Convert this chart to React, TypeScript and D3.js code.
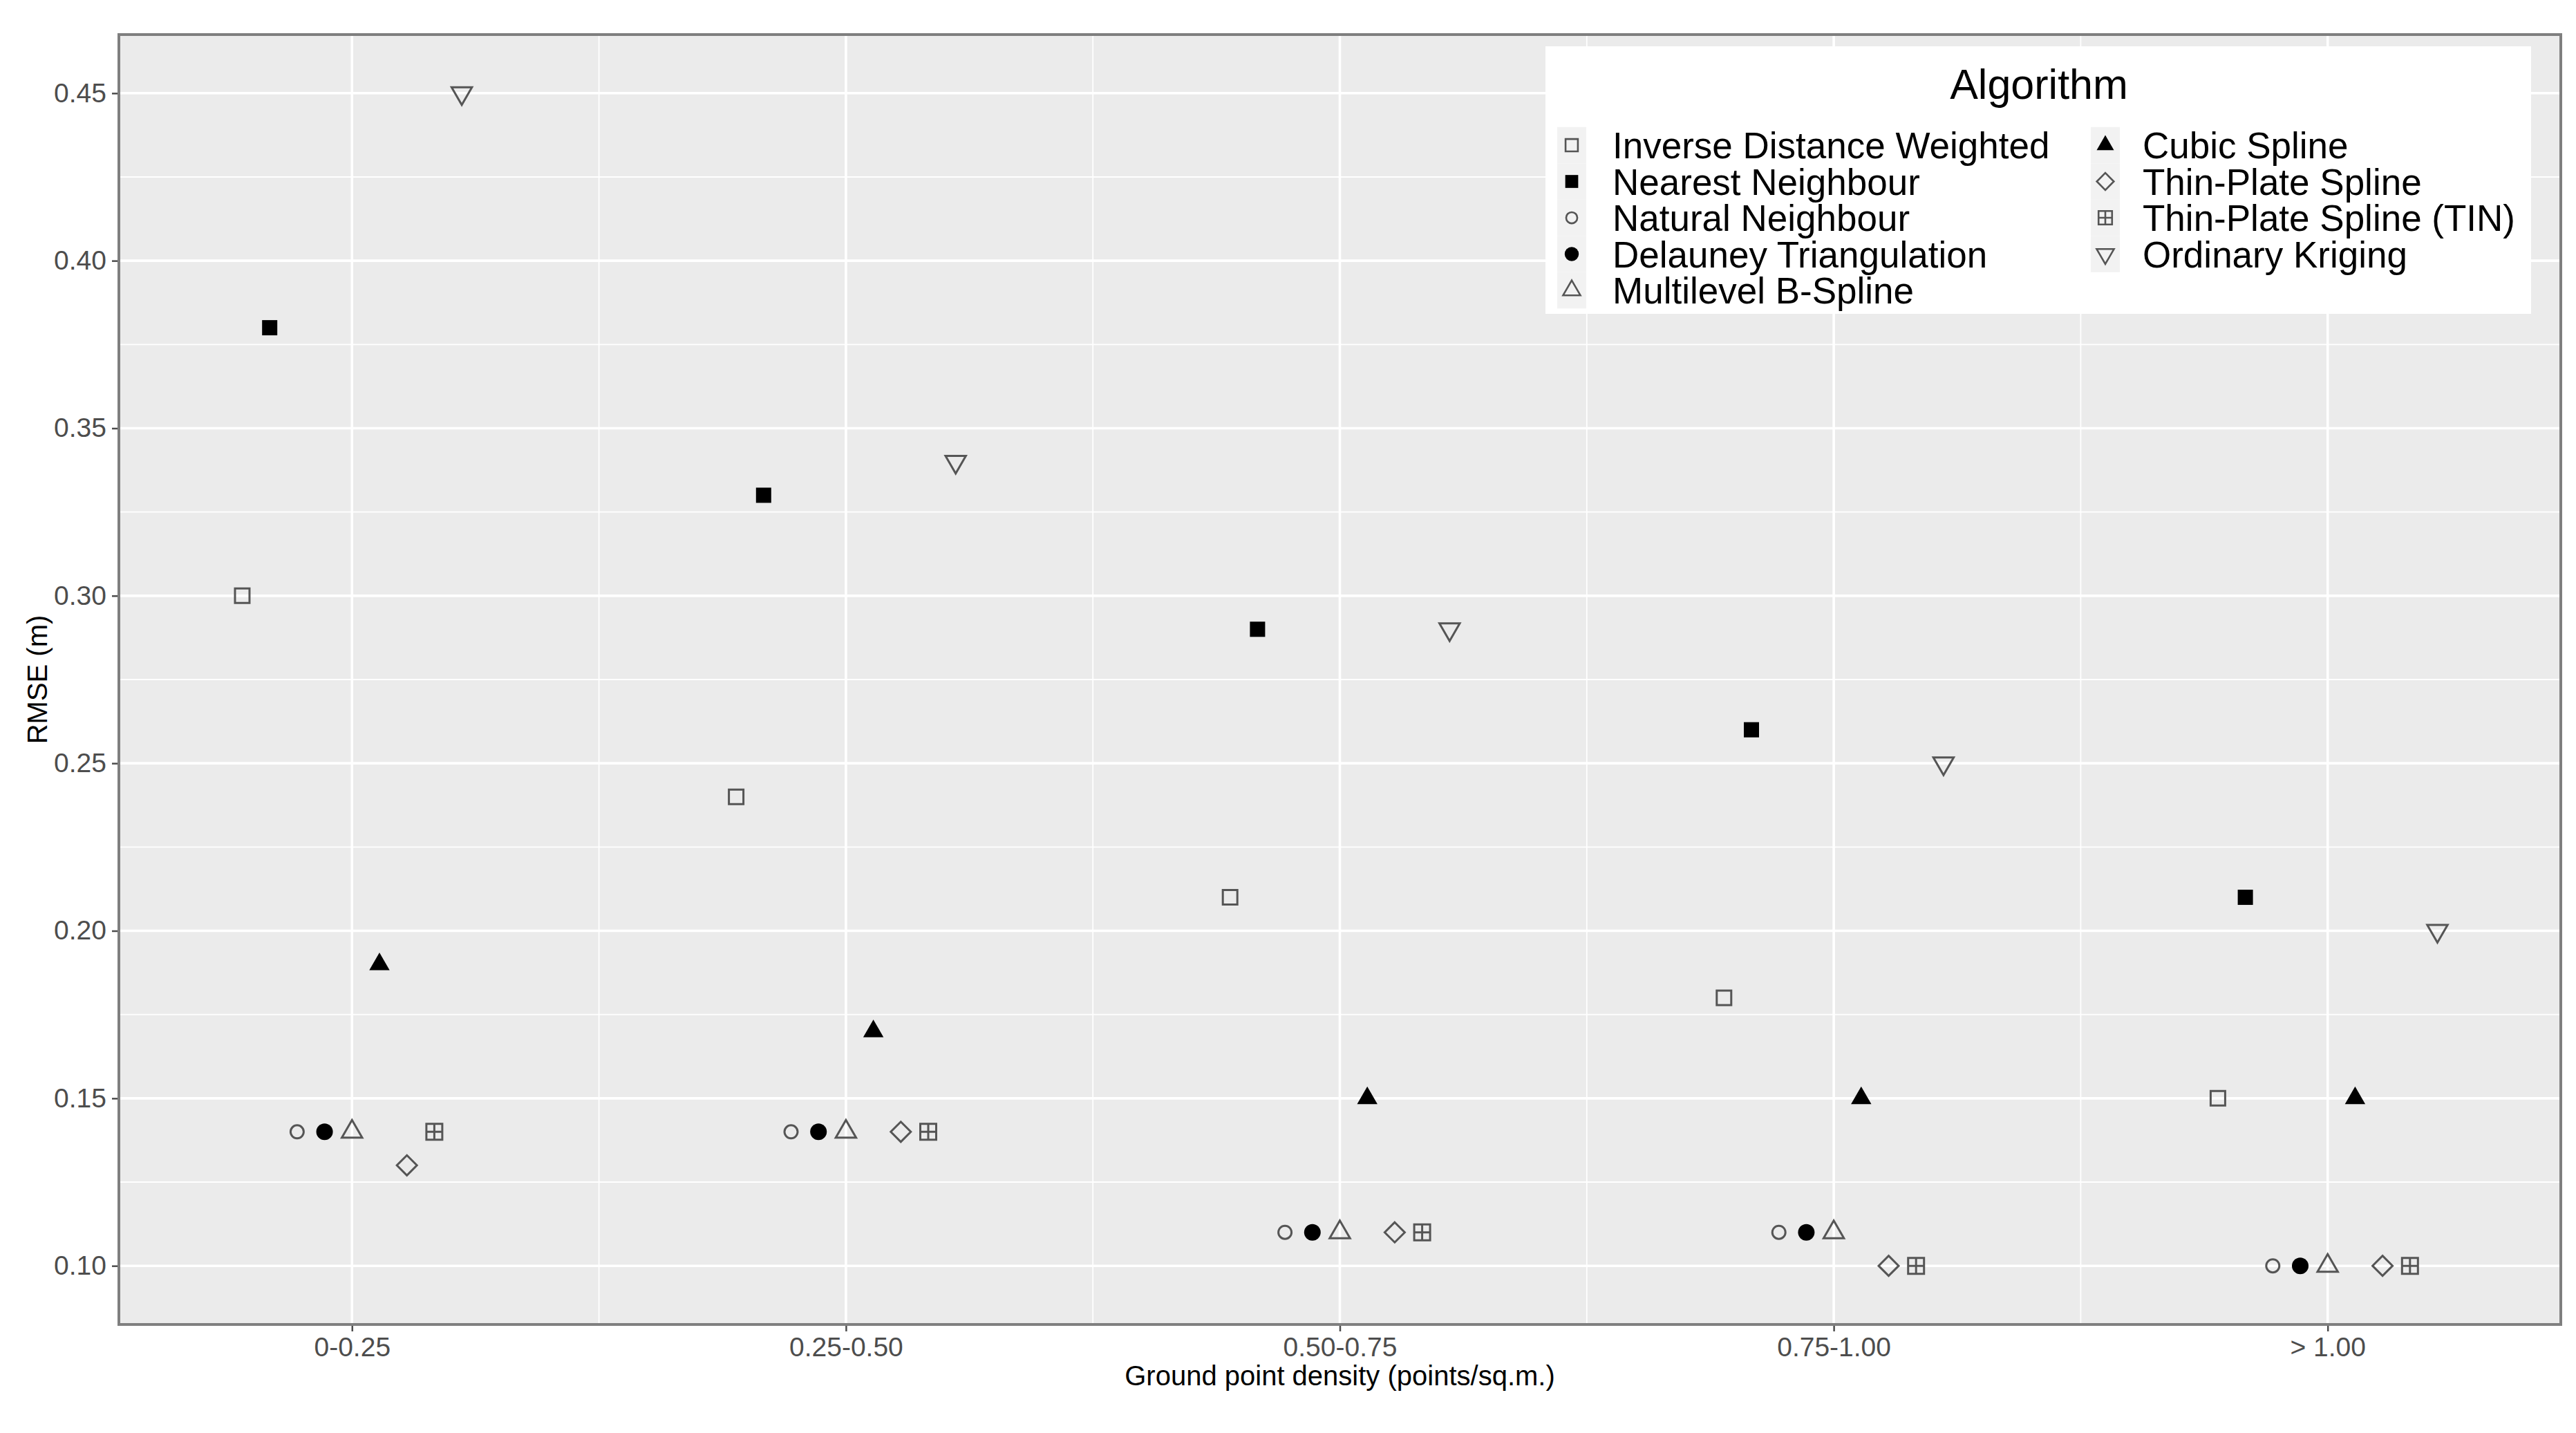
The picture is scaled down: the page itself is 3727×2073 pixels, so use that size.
import React, { useRef, useEffect } from 'react';
import * as d3 from 'd3';

const categories = ['0-0.25', '0.25-0.50', '0.50-0.75', '0.75-1.00', '> 1.00'];
const algorithms = [
  'Inverse Distance Weighted',
  'Nearest Neighbour',
  'Natural Neighbour',
  'Delauney Triangulation',
  'Multilevel B-Spline',
  'Cubic Spline',
  'Thin-Plate Spline',
  'Thin-Plate Spline (TIN)',
  'Ordinary Kriging',
];

// RMSE (m) per density class, one array per algorithm
const idw = [0.30, 0.24, 0.21, 0.18, 0.15];
const nearest = [0.38, 0.33, 0.29, 0.26, 0.21];
const natural = [0.14, 0.14, 0.11, 0.11, 0.10];
const delauney = [0.14, 0.14, 0.11, 0.11, 0.10];
const multilevel = [0.14, 0.14, 0.11, 0.11, 0.10];
const cubic = [0.19, 0.17, 0.15, 0.15, 0.15];
const thinPlate = [0.13, 0.14, 0.11, 0.10, 0.10];
const thinPlateTin = [0.14, 0.14, 0.11, 0.10, 0.10];
const kriging = [0.45, 0.34, 0.29, 0.25, 0.20];

const seriesValues = [idw, nearest, natural, delauney, multilevel, cubic, thinPlate, thinPlateTin, kriging];
const shapes = ['square', 'squareFilled', 'circle', 'circleFilled', 'triangle', 'triangleFilled', 'diamond', 'squarePlus', 'triangleDown'];

const yTicks = [0.10, 0.15, 0.20, 0.25, 0.30, 0.35, 0.40, 0.45];
const yMinor = [0.125, 0.175, 0.225, 0.275, 0.325, 0.375, 0.425];

const W = 3727;
const H = 2073;
const FONT = '"Liberation Sans", Arial, Helvetica, sans-serif';

const OPEN = '#555555';

function shapePath(kind: string, k = 1): string {
  const p = d3.path();
  if (kind === 'square' || kind === 'squareFilled' || kind === 'squarePlus') {
    const s = (kind === 'squarePlus' ? 11.5 : kind === 'square' ? 10.5 : 11) * k;
    p.rect(-s, -s, 2 * s, 2 * s);
    if (kind === 'squarePlus') {
      p.moveTo(0, -s); p.lineTo(0, s);
      p.moveTo(-s, 0); p.lineTo(s, 0);
    }
  } else if (kind === 'circle' || kind === 'circleFilled') {
    const r = (kind === 'circle' ? 9.5 : 12) * k;
    p.moveTo(r, 0);
    p.arc(0, 0, r, 0, Math.PI * 2);
    p.closePath();
  } else if (kind === 'triangle' || kind === 'triangleFilled') {
    const r = 17 * k;
    p.moveTo(0, -r);
    p.lineTo(r * 0.866, r * 0.5);
    p.lineTo(-r * 0.866, r * 0.5);
    p.closePath();
  } else if (kind === 'triangleDown') {
    const r = 17 * k;
    p.moveTo(0, r);
    p.lineTo(r * 0.866, -r * 0.5);
    p.lineTo(-r * 0.866, -r * 0.5);
    p.closePath();
  } else if (kind === 'diamond') {
    const r = 14.5 * k;
    p.moveTo(0, -r); p.lineTo(r, 0); p.lineTo(0, r); p.lineTo(-r, 0);
    p.closePath();
  }
  return p.toString();
}

const isFilled = (kind: string) => kind.endsWith('Filled');

const App: React.FC = () => {
  const svgRef = useRef<SVGSVGElement>(null);

  useEffect(() => {
    if (!svgRef.current) return;
    const svg = d3.select(svgRef.current);
    svg.selectAll('*').remove();

    const left = 172, right = 3705, top = 50, bottom = 1916;

    const x = d3.scalePoint<string>().domain(categories).range([left, right]).padding(0.472);
    const y = d3.scaleLinear().domain([0.0825, 0.4675]).range([bottom, top]);
    const step = x.step();
    const dodge = (i: number) => (i - (algorithms.length - 1) / 2) * step * (0.5 / algorithms.length);

    svg.append('rect').attr('width', W).attr('height', H).attr('fill', '#ffffff');

    // panel
    svg.append('rect')
      .attr('x', left).attr('y', top)
      .attr('width', right - left).attr('height', bottom - top)
      .attr('fill', '#EBEBEB');

    const grid = svg.append('g');
    grid.selectAll('line.hmin').data(yMinor).join('line')
      .attr('x1', left).attr('x2', right)
      .attr('y1', d => y(d)).attr('y2', d => y(d))
      .attr('stroke', '#ffffff').attr('stroke-width', 1.8);
    grid.selectAll('line.hmaj').data(yTicks).join('line')
      .attr('x1', left).attr('x2', right)
      .attr('y1', d => y(d)).attr('y2', d => y(d))
      .attr('stroke', '#ffffff').attr('stroke-width', 3.6);

    const xMid = d3.pairs(categories).map(([a, b]) => ((x(a) as number) + (x(b) as number)) / 2);
    grid.selectAll('line.vmin').data(xMid).join('line')
      .attr('x1', d => d).attr('x2', d => d)
      .attr('y1', top).attr('y2', bottom)
      .attr('stroke', '#ffffff').attr('stroke-width', 1.8);
    grid.selectAll('line.vmaj').data(categories).join('line')
      .attr('x1', d => x(d) as number).attr('x2', d => x(d) as number)
      .attr('y1', top).attr('y2', bottom)
      .attr('stroke', '#ffffff').attr('stroke-width', 3.6);

    // points
    const pts = svg.append('g');
    seriesValues.forEach((vals, i) => {
      const kind = shapes[i];
      pts.selectAll(`path.s${i}`).data(vals).join('path')
        .attr('class', `s${i}`)
        .attr('transform', (d, j) => `translate(${(x(categories[j]) as number) + dodge(i)},${y(d)})`)
        .attr('d', shapePath(kind))
        .attr('fill', isFilled(kind) ? '#000000' : 'none')
        .attr('stroke', isFilled(kind) ? 'none' : OPEN)
        .attr('stroke-width', 3);
    });

    // panel border
    svg.append('rect')
      .attr('x', left).attr('y', top)
      .attr('width', right - left).attr('height', bottom - top)
      .attr('fill', 'none').attr('stroke', '#7f7f7f').attr('stroke-width', 4);

    // axes
    const yAxis = svg.append('g')
      .attr('transform', `translate(${left - 2},0)`)
      .call(d3.axisLeft(y).tickValues(yTicks).tickFormat(d3.format('.2f')).tickSize(8).tickPadding(8));
    const xAxis = svg.append('g')
      .attr('transform', `translate(0,${bottom + 2})`)
      .call(d3.axisBottom(x).tickSize(8).tickPadding(8));
    [yAxis, xAxis].forEach(a => {
      a.select('.domain').remove();
      a.selectAll('line').attr('stroke', '#4D4D4D').attr('stroke-width', 2.5);
      a.selectAll('text')
        .attr('fill', '#4D4D4D')
        .style('font-family', FONT)
        .style('font-size', '39px');
    });

    svg.append('text')
      .attr('x', (left + right) / 2).attr('y', 2004)
      .attr('text-anchor', 'middle')
      .style('font-family', FONT).style('font-size', '40px')
      .attr('fill', '#000000')
      .text('Ground point density (points/sq.m.)');

    svg.append('text')
      .attr('transform', `translate(68,${(top + bottom) / 2 + 0}) rotate(-90)`)
      .attr('text-anchor', 'middle')
      .style('font-family', FONT).style('font-size', '40px')
      .attr('fill', '#000000')
      .text('RMSE (m)');

    // legend
    const lg = svg.append('g');
    lg.append('rect')
      .attr('x', 2236).attr('y', 67)
      .attr('width', 3662 - 2236).attr('height', 454 - 67)
      .attr('fill', '#ffffff');
    lg.append('text')
      .attr('x', 2950).attr('y', 143)
      .attr('text-anchor', 'middle')
      .style('font-family', FONT).style('font-size', '61px')
      .attr('fill', '#000000')
      .text('Algorithm');

    const rowH = 52.5;
    const colKeyX = [2274, 3046];
    const colTextX = [2333, 3100];
    algorithms.forEach((name, i) => {
      const col = i < 5 ? 0 : 1;
      const row = i < 5 ? i : i - 5;
      const cy = 210 + row * rowH;
      lg.append('rect')
        .attr('x', colKeyX[col] - 21).attr('y', cy - rowH / 2)
        .attr('width', 42).attr('height', rowH)
        .attr('fill', '#F2F2F2');
      const kind = shapes[i];
      lg.append('path')
        .attr('transform', `translate(${colKeyX[col]},${cy})`)
        .attr('d', shapePath(kind, 0.85))
        .attr('fill', isFilled(kind) ? '#000000' : 'none')
        .attr('stroke', isFilled(kind) ? 'none' : OPEN)
        .attr('stroke-width', 2.6);
      lg.append('text')
        .attr('x', colTextX[col]).attr('y', cy + 19)
        .style('font-family', FONT).style('font-size', '53px')
        .attr('fill', '#000000')
        .text(name);
    });
  }, []);

  return (
    <div style={{ position: 'absolute', left: 0, top: 0 }}>
      <svg ref={svgRef} width={W} height={H} style={{ display: 'block' }} />
    </div>
  );
};

export default App;
